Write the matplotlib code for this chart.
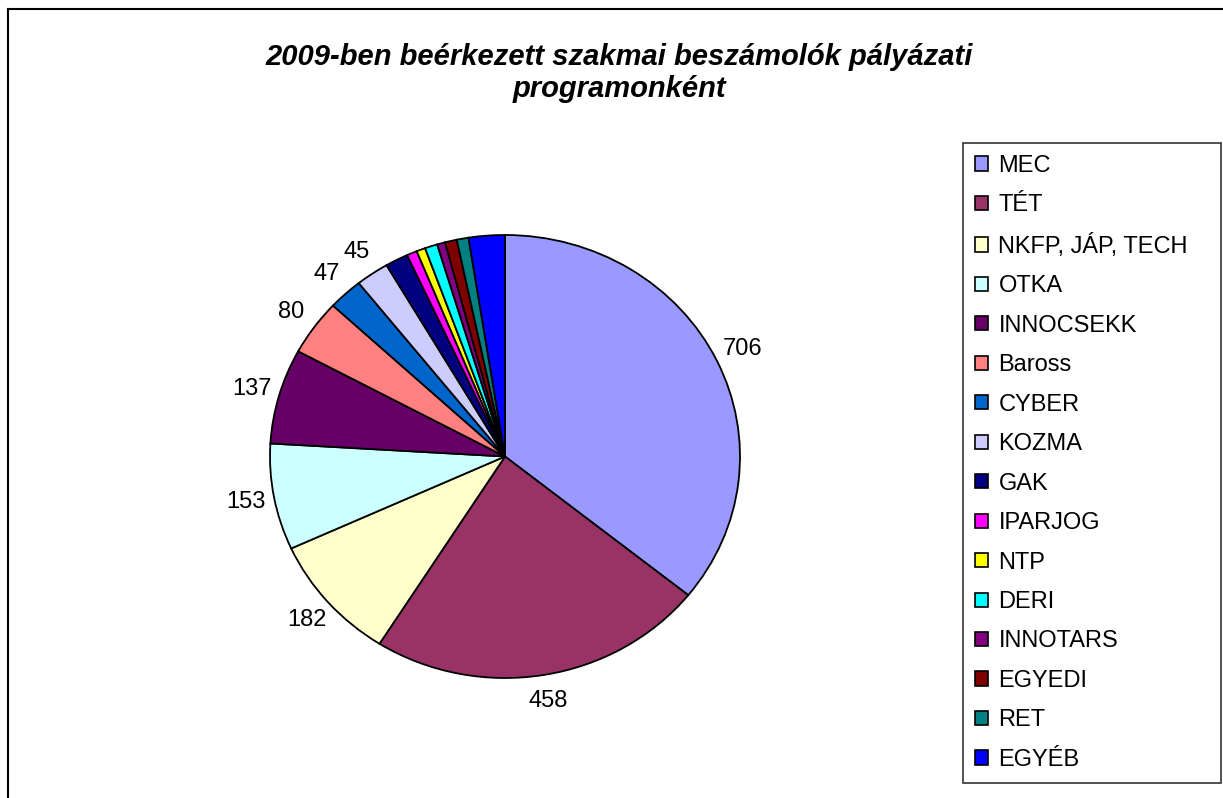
import matplotlib
matplotlib.use("Agg")
import matplotlib.pyplot as plt
from matplotlib.patches import Patch
from matplotlib.lines import Line2D

plt.rcParams['font.family'] = ['Liberation Sans', 'DejaVu Sans']

categories = ["MEC", "TÉT", "NKFP, JÁP, TECH", "OTKA", "INNOCSEKK", "Baross",
              "CYBER", "KOZMA", "GAK", "IPARJOG", "NTP", "DERI", "INNOTARS",
              "EGYEDI", "RET", "EGYÉB"]
values = [706, 458, 182, 153, 137, 80, 47, 45, 31, 14, 12, 17, 11, 16, 16, 49]
shown_labels = ["706", "458", "182", "153", "137", "80", "47", "45",
                "", "", "", "", "", "", "", ""]
colors = ["#9999FF", "#993366", "#FFFFCC", "#CCFFFF", "#660066", "#FF8080",
          "#0066CC", "#CCCCFF", "#000080", "#FF00FF", "#FFFF00", "#00FFFF",
          "#800080", "#800000", "#008080", "#0000FF"]
title = "2009-ben beérkezett szakmai beszámolók pályázati\nprogramonként"

W, H = 1223, 798
fig = plt.figure(figsize=(W / 100, H / 100), dpi=100)
fig.patch.set_facecolor("white")

# outer chart frame (only top and left edges visible)
fig.add_artist(Line2D([8 / W, 8 / W], [0, 1 - 9 / H], color="black", lw=1.5,
                      transform=fig.transFigure))
fig.add_artist(Line2D([8 / W, 1], [1 - 9 / H, 1 - 9 / H], color="black", lw=1.5,
                      transform=fig.transFigure))

# pie axes (elliptical pie: rx=235px, ry=221.5px)
cx, cy = 505, 798 - 456.5
lim = 1.3
aw, ah = 235 * 2 * lim, 221.5 * 2 * lim
ax = fig.add_axes([(cx - aw / 2) / W, (cy - ah / 2) / H, aw / W, ah / H])
wedges, texts = ax.pie(values, colors=colors, startangle=90, counterclock=False,
                       labels=shown_labels, labeldistance=1.12,
                       wedgeprops=dict(edgecolor="black", linewidth=1.3),
                       textprops=dict(fontsize=17))
for t in texts:
    t.set_ha("center")
    t.set_va("center")
ax.set_aspect("auto")
ax.set_xlim(-lim, lim)
ax.set_ylim(-lim, lim)
ax.axis("off")

fig.text(619 / W, 1 - 73 / H, title, ha="center", va="center", fontsize=21,
         fontweight="bold", fontstyle="italic", linespacing=1.2)

handles = [Patch(facecolor=c, edgecolor="black", linewidth=1.2) for c in colors]
leg = fig.legend(handles, categories, loc="upper left", mode="expand",
                 bbox_to_anchor=(963 / W, 1 - 781 / H, 258 / W, 638 / H),
                 bbox_transform=fig.transFigure,
                 fontsize=17, frameon=True, fancybox=False, edgecolor="black",
                 handlelength=0.55, handleheight=0.55, handletextpad=0.45,
                 labelspacing=0.74, borderpad=0.5, borderaxespad=0)
leg.get_frame().set_linewidth(1.2)

fig.savefig("out.png", dpi=100, facecolor="white")
